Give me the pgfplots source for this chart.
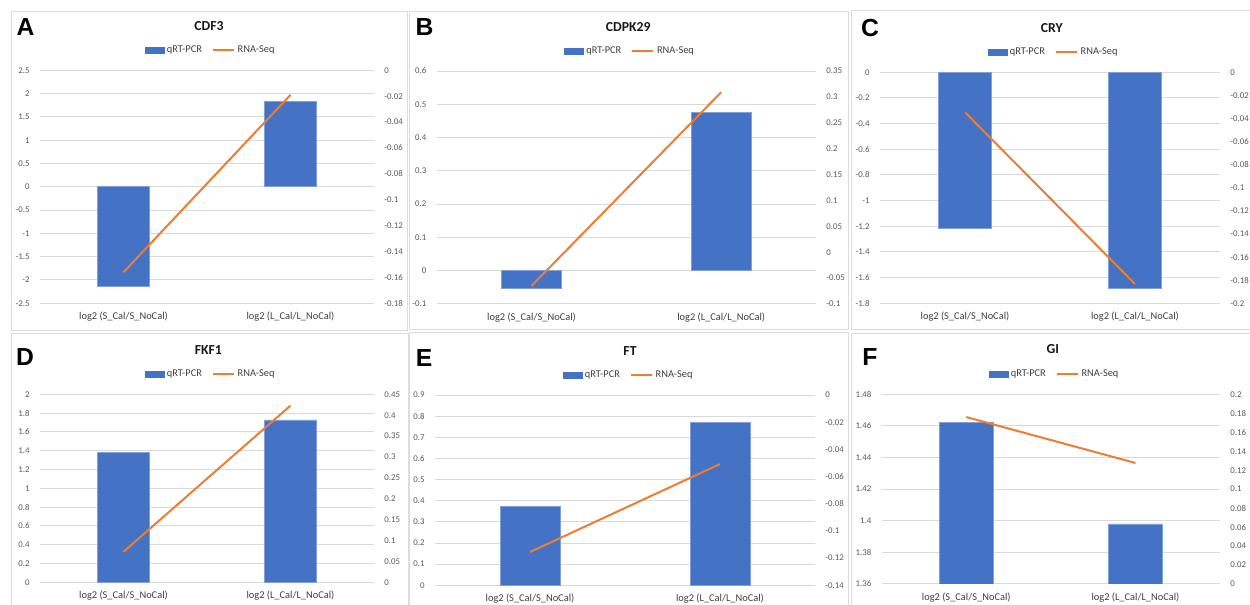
\documentclass[border=0pt]{standalone}
\usepackage{fontspec}
\setmainfont{Carlito}
\newfontfamily\letterfont{Liberation Sans}
\usepackage{pgfplots}
\pgfplotsset{compat=1.18}
\definecolor{barblue}{HTML}{4472C4}
\definecolor{barbord}{HTML}{7FA0DA}
\definecolor{lineorange}{HTML}{ED7D31}
\definecolor{gridgray}{HTML}{D9D9D9}
\definecolor{tickgray}{HTML}{595959}
\definecolor{labgray}{HTML}{404040}
\definecolor{framegray}{HTML}{DCDCDC}

\pgfplotsset{
  base/.style={scale only axis, anchor=south west, xmin=-0.5, xmax=1.5,
    axis line style={draw=none}, tick style={draw=none}, major tick length=0pt,
    tick label style={font=\fontsize{6.6}{7.5}\selectfont, text=tickgray},
    scaled ticks=false, clip=true},
  leftax/.style={base, ybar, bar width=0.315,
    ymajorgrids, grid style={gridgray, line width=0.75pt},
    xtick={0,1}, xticklabels={log2 (S\_Cal/S\_NoCal), log2 (L\_Cal/L\_NoCal)},
    xticklabel style={font=\fontsize{7.8}{9}\selectfont, text=labgray, anchor=center, yshift=-10pt},
    yticklabel style={anchor=east, xshift=-4.3pt}},
  rightax/.style={base, xtick=\empty, ytick pos=right, yticklabel pos=right,
    yticklabel style={anchor=west, xshift=4.3pt},
    legend columns=2,
    legend style={at={(0.5,1)}, anchor=center, xshift=3pt, yshift=15pt,
      draw=none, fill=none, font=\fontsize{7.8}{9}\selectfont, text=labgray,
      /tikz/every even column/.append style={column sep=5.5pt}}},
  barleg/.style={legend image code/.code={\fill[barblue] (0pt,-2.3pt) rectangle (14.25pt,2.3pt);}},
  lineleg/.style={legend image code/.code={\draw[lineorange, line width=1.5pt] (0pt,0pt) -- (15.75pt,0pt);}},
  rna/.style={lineorange, line width=1.5pt, mark=none, lineleg},
  qpcr/.style={fill=barblue, draw=barbord, line width=0.5pt},
}

\begin{document}
\begin{tikzpicture}
\useasboundingbox (0pt,0pt) rectangle (937.5pt,-453.75pt);
\fill[white] (0pt,0pt) rectangle (937.5pt,-453.75pt);

\begin{scope}[x=0.75pt, y=-0.75pt]
  \draw[framegray, line width=0.75pt] (11.7,12) rectangle (407.3,330.5);
  \draw[framegray, line width=0.75pt] (409,12) rectangle (848.3,330);
  \draw[framegray, line width=0.75pt] (851.7,11) rectangle (1260,330);
  \draw[framegray, line width=0.75pt] (11.7,333.3) rectangle (408.3,620);
  \draw[framegray, line width=0.75pt] (409.5,333) rectangle (848.3,620);
  \draw[framegray, line width=0.75pt] (851.7,334) rectangle (1260,620);

  \begin{scope}[every node/.style={font=\letterfont\fontsize{18.5}{20}\selectfont\bfseries, anchor=center, inner sep=0pt}]
    \node at (25.5,27) {A};
    \node at (424.5,27) {B};
    \node at (870,28) {C};
    \node at (25,357.5) {D};
    \node at (424,358) {E};
    \node at (870,357) {F};
  \end{scope}
  \begin{scope}[every node/.style={font=\fontsize{10.3}{12}\selectfont\bfseries, text=black!90, anchor=center, inner sep=0pt}]
    \node at (209,25.7) {CDF3};
    \node at (628.3,26.7) {CDPK29};
    \node at (1051.7,27.7) {CRY};
    \node at (208.3,350) {FKF1};
    \node at (630,350.7) {FT};
    \node at (1052.7,349.3) {GI};
  \end{scope}
\end{scope}

% ---------------- Panel A: CDF3
\begin{axis}[leftax, at={(30pt,-227.475pt)}, width=250.5pt, height=174.75pt,
  ymin=-2.5, ymax=2.5,
  ytick={-2.5,-2,-1.5,-1,-0.5,0,0.5,1,1.5,2,2.5},
  yticklabels={-2.5,-2,-1.5,-1,-0.5,0,0.5,1,1.5,2,2.5}]
  \addplot[qpcr] coordinates {(0,-2.14) (1,1.83)};
\end{axis}
\begin{axis}[rightax, at={(30pt,-227.475pt)}, width=250.5pt, height=174.75pt,
  ymin=-0.18, ymax=0,
  ytick={-0.18,-0.16,-0.14,-0.12,-0.1,-0.08,-0.06,-0.04,-0.02,0},
  yticklabels={-0.18,-0.16,-0.14,-0.12,-0.1,-0.08,-0.06,-0.04,-0.02,0}]
  \addlegendimage{barleg}
  \addlegendentry{qRT-PCR}
  \addplot[rna] coordinates {(0,-0.156) (1,-0.019)};
  \addlegendentry{RNA-Seq}
\end{axis}

% ---------------- Panel B: CDPK29
\begin{axis}[leftax, at={(327.525pt,-228pt)}, width=284.475pt, height=174.75pt,
  ymin=-0.1, ymax=0.6,
  ytick={-0.1,0,0.1,0.2,0.3,0.4,0.5,0.6},
  yticklabels={-0.1,0,0.1,0.2,0.3,0.4,0.5,0.6}]
  \addplot[qpcr] coordinates {(0,-0.053) (1,0.476)};
\end{axis}
\begin{axis}[rightax, at={(327.525pt,-228pt)}, width=284.475pt, height=174.75pt,
  ymin=-0.1, ymax=0.35,
  ytick={-0.1,-0.05,0,0.05,0.1,0.15,0.2,0.25,0.3,0.35},
  yticklabels={-0.1,-0.05,0,0.05,0.1,0.15,0.2,0.25,0.3,0.35}]
  \addlegendimage{barleg}
  \addlegendentry{qRT-PCR}
  \addplot[rna] coordinates {(0,-0.065) (1,0.309)};
  \addlegendentry{RNA-Seq}
\end{axis}

% ---------------- Panel C: CRY
\begin{axis}[leftax, at={(660pt,-227.475pt)}, width=255pt, height=173.25pt,
  ymin=-1.8, ymax=0,
  ytick={-1.8,-1.6,-1.4,-1.2,-1,-0.8,-0.6,-0.4,-0.2,0},
  yticklabels={-1.8,-1.6,-1.4,-1.2,-1,-0.8,-0.6,-0.4,-0.2,0}]
  \addplot[qpcr] coordinates {(0,-1.216) (1,-1.681)};
\end{axis}
\begin{axis}[rightax, at={(660pt,-227.475pt)}, width=255pt, height=173.25pt,
  ymin=-0.2, ymax=0,
  ytick={-0.2,-0.18,-0.16,-0.14,-0.12,-0.1,-0.08,-0.06,-0.04,-0.02,0},
  yticklabels={-0.2,-0.18,-0.16,-0.14,-0.12,-0.1,-0.08,-0.06,-0.04,-0.02,0}]
  \addlegendimage{barleg}
  \addlegendentry{qRT-PCR}
  \addplot[rna] coordinates {(0,-0.0346) (1,-0.1833)};
  \addlegendentry{RNA-Seq}
\end{axis}

% ---------------- Panel D: FKF1
\begin{axis}[leftax, at={(30pt,-436.725pt)}, width=250.5pt, height=141pt,
  ymin=0, ymax=2,
  ytick={0,0.2,0.4,0.6,0.8,1,1.2,1.4,1.6,1.8,2},
  yticklabels={0,0.2,0.4,0.6,0.8,1,1.2,1.4,1.6,1.8,2}]
  \addplot[qpcr] coordinates {(0,1.383) (1,1.727)};
\end{axis}
\begin{axis}[rightax, at={(30pt,-436.725pt)}, width=250.5pt, height=141pt,
  ymin=0, ymax=0.45,
  ytick={0,0.05,0.1,0.15,0.2,0.25,0.3,0.35,0.4,0.45},
  yticklabels={0,0.05,0.1,0.15,0.2,0.25,0.3,0.35,0.4,0.45}]
  \addlegendimage{barleg}
  \addlegendentry{qRT-PCR}
  \addplot[rna] coordinates {(0,0.073) (1,0.423)};
  \addlegendentry{RNA-Seq}
\end{axis}

% ---------------- Panel E: FT
\begin{axis}[leftax, at={(326.25pt,-438.975pt)}, width=285pt, height=142.725pt,
  ymin=0, ymax=0.9,
  ytick={0,0.1,0.2,0.3,0.4,0.5,0.6,0.7,0.8,0.9},
  yticklabels={0,0.1,0.2,0.3,0.4,0.5,0.6,0.7,0.8,0.9}]
  \addplot[qpcr] coordinates {(0,0.374) (1,0.771)};
\end{axis}
\begin{axis}[rightax, at={(326.25pt,-438.975pt)}, width=285pt, height=142.725pt,
  ymin=-0.14, ymax=0,
  ytick={-0.14,-0.12,-0.1,-0.08,-0.06,-0.04,-0.02,0},
  yticklabels={-0.14,-0.12,-0.1,-0.08,-0.06,-0.04,-0.02,0}]
  \addlegendimage{barleg}
  \addlegendentry{qRT-PCR}
  \addplot[rna] coordinates {(0,-0.1155) (1,-0.0508)};
  \addlegendentry{RNA-Seq}
\end{axis}

% ---------------- Panel F: GI
\begin{axis}[leftax, at={(661.275pt,-438pt)}, width=253.725pt, height=142.275pt,
  ymin=1.36, ymax=1.48,
  ytick={1.36,1.38,1.4,1.42,1.44,1.46,1.48},
  yticklabels={1.36,1.38,1.4,1.42,1.44,1.46,1.48}]
  \addplot[qpcr] coordinates {(0,1.462) (1,1.398)};
\end{axis}
\begin{axis}[rightax, at={(661.275pt,-438pt)}, width=253.725pt, height=142.275pt,
  ymin=0, ymax=0.2,
  ytick={0,0.02,0.04,0.06,0.08,0.1,0.12,0.14,0.16,0.18,0.2},
  yticklabels={0,0.02,0.04,0.06,0.08,0.1,0.12,0.14,0.16,0.18,0.2}]
  \addlegendimage{barleg}
  \addlegendentry{qRT-PCR}
  \addplot[rna] coordinates {(0,0.176) (1,0.1276)};
  \addlegendentry{RNA-Seq}
\end{axis}

\end{tikzpicture}
\end{document}
